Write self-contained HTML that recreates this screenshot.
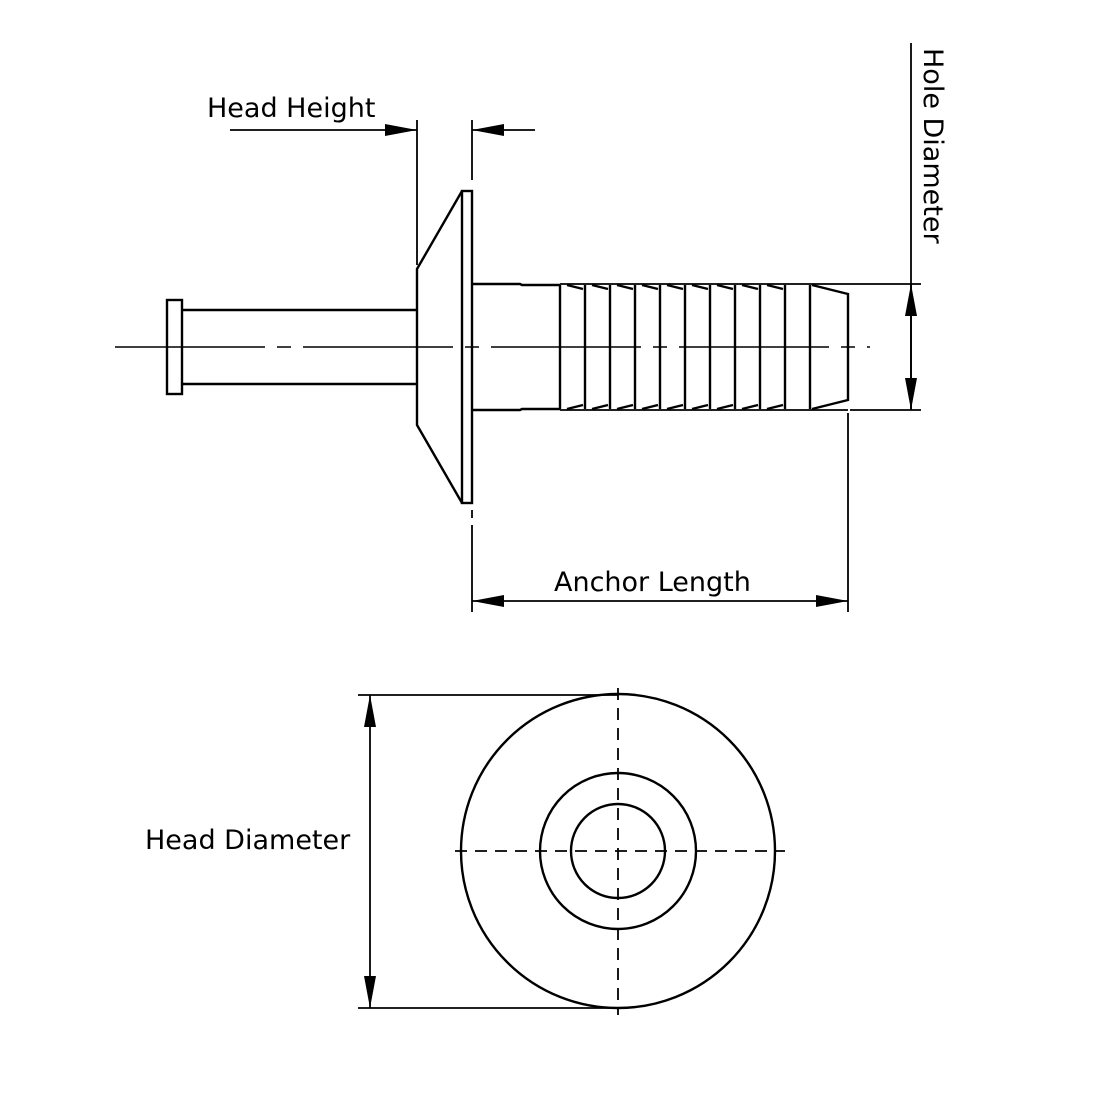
<!DOCTYPE html>
<html><head><meta charset="utf-8"><style>
html,body{margin:0;padding:0;background:#fff;width:1100px;height:1100px;overflow:hidden}
svg{display:block}
text{font-family:"DejaVu Sans","Liberation Sans",sans-serif;font-size:27px;fill:#000}
</style></head><body>
<svg width="1100" height="1100" viewBox="0 0 1100 1100" xmlns="http://www.w3.org/2000/svg">
<defs>
<marker id="a" viewBox="0 0 32 12" refX="32" refY="6" markerWidth="32" markerHeight="12" markerUnits="userSpaceOnUse" orient="auto"><path d="M0,0 L32,6 L0,12 Z" fill="#000"/></marker>
</defs>
<g stroke="#000" stroke-width="2.4" fill="none">
<line x1="115" y1="347" x2="870" y2="347" stroke-width="1.6" stroke-dasharray="150,12,14,12"/>
<rect x="167" y="300" width="15" height="94"/>
<line x1="182" y1="310" x2="417" y2="310"/>
<line x1="182" y1="384" x2="417" y2="384"/>
<polyline points="462,191 417,269 417,425 462,503"/>
<rect x="462" y="191" width="10" height="312"/>
<polyline points="472,284 520,284 522,285 560,285"/>
<polyline points="472,410 520,410 522,409 560,409"/>
<line x1="560" y1="284" x2="848" y2="284" stroke-width="1.8"/>
<line x1="560" y1="410" x2="848" y2="410" stroke-width="1.8"/>
<g>
<line x1="560" y1="285" x2="560" y2="409"/>
<line x1="585" y1="285" x2="585" y2="409"/>
<line x1="610" y1="285" x2="610" y2="409"/>
<line x1="635" y1="285" x2="635" y2="409"/>
<line x1="660" y1="285" x2="660" y2="409"/>
<line x1="685" y1="285" x2="685" y2="409"/>
<line x1="710" y1="285" x2="710" y2="409"/>
<line x1="735" y1="285" x2="735" y2="409"/>
<line x1="760" y1="285" x2="760" y2="409"/>
<line x1="785" y1="285" x2="785" y2="409"/>
<line x1="810" y1="285" x2="810" y2="409"/>
<path d="M567,285 L583,289 M592,285 L608,289 M617,285 L633,289 M642,285 L658,289 M667,285 L683,289 M692,285 L708,289 M717,285 L733,289 M742,285 L758,289 M767,285 L783,289"/>
<path d="M567,409 L583,405 M592,409 L608,405 M617,409 L633,405 M642,409 L658,405 M667,409 L683,405 M692,409 L708,405 M717,409 L733,405 M742,409 L758,405 M767,409 L783,405"/>
<polyline points="812,285 848,294 848,400 812,409"/>
</g>
<line x1="417" y1="120" x2="417" y2="265" stroke-width="1.8"/>
<line x1="472" y1="120" x2="472" y2="180" stroke-width="1.8"/>
<line x1="230" y1="130" x2="417" y2="130" stroke-width="1.8" marker-end="url(#a)"/>
<line x1="535" y1="130" x2="472" y2="130" stroke-width="1.8" marker-end="url(#a)"/>
<line x1="472" y1="510" x2="472" y2="518" stroke-width="1.8"/>
<line x1="472" y1="525" x2="472" y2="612" stroke-width="1.8"/>
<line x1="848" y1="413" x2="848" y2="612" stroke-width="1.8"/>
<line x1="660" y1="601" x2="472" y2="601" stroke-width="1.8" marker-end="url(#a)"/>
<line x1="660" y1="601" x2="848" y2="601" stroke-width="1.8" marker-end="url(#a)"/>
<line x1="911" y1="43" x2="911" y2="410" stroke-width="1.8"/>
<line x1="848" y1="284" x2="921" y2="284" stroke-width="1.8"/>
<line x1="850" y1="410" x2="921" y2="410" stroke-width="1.8"/>
<line x1="911" y1="347" x2="911" y2="284" stroke-width="1.8" marker-end="url(#a)"/>
<line x1="911" y1="347" x2="911" y2="410" stroke-width="1.8" marker-end="url(#a)"/>
<circle cx="618" cy="851" r="157"/>
<circle cx="618" cy="851" r="78"/>
<circle cx="618" cy="851" r="47"/>
<line x1="455" y1="851" x2="785" y2="851" stroke-width="1.8" stroke-dasharray="12,8"/>
<line x1="618" y1="688" x2="618" y2="1015" stroke-width="1.8" stroke-dasharray="12,8"/>
<line x1="358" y1="695" x2="618" y2="695" stroke-width="1.8"/>
<line x1="358" y1="1008" x2="618" y2="1008" stroke-width="1.8"/>
<line x1="370" y1="851" x2="370" y2="695" stroke-width="1.8" marker-end="url(#a)"/>
<line x1="370" y1="851" x2="370" y2="1008" stroke-width="1.8" marker-end="url(#a)"/>
</g>
<text x="207" y="117">Head Height</text>
<text x="554" y="591">Anchor Length</text>
<text x="145" y="849">Head Diameter</text>
<text transform="translate(924,48) rotate(90)">Hole Diameter</text>
</svg>
</body></html>
